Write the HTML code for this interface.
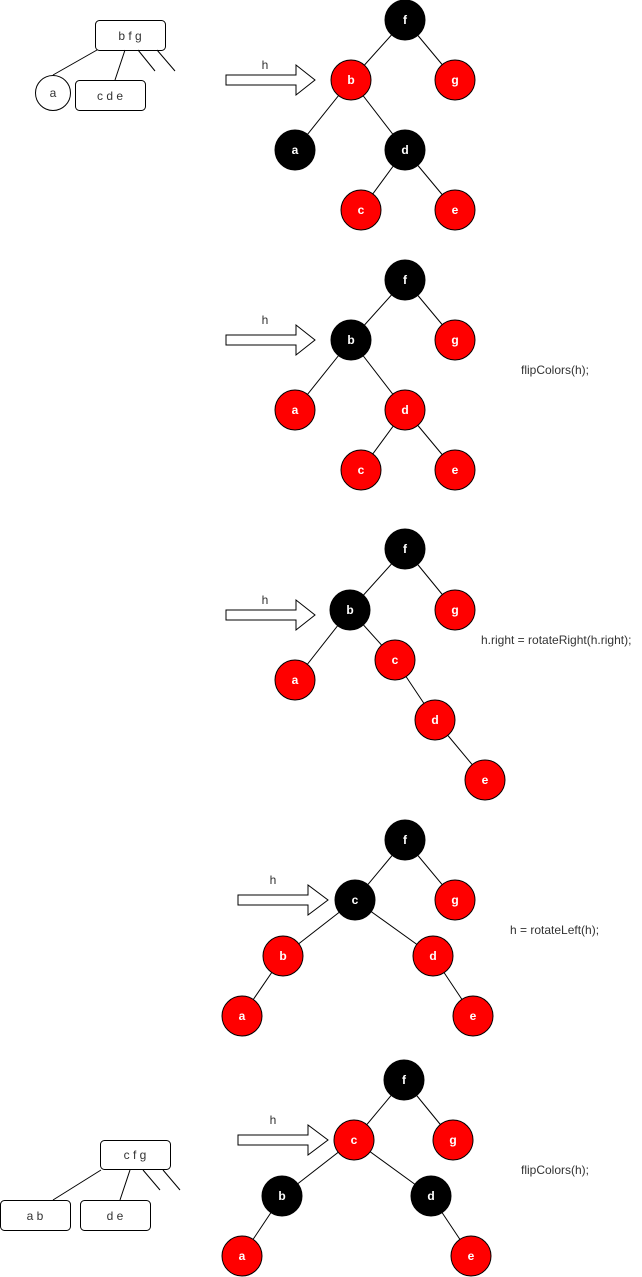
<!DOCTYPE html>
<html><head><style>body{margin:0;background:#fff}svg{display:block}</style></head><body>
<svg width="642" height="1277" xmlns="http://www.w3.org/2000/svg" font-family="Liberation Sans, sans-serif">
<defs>
<style>
.l{stroke:#000;stroke-width:1;fill:none}
.r{fill:#f00;stroke:#000;stroke-width:1}
.b{fill:#000;stroke:#000;stroke-width:1}
.t{fill:#fff;font-weight:bold;font-size:12px;text-anchor:middle}
.p{fill:#333;font-size:12px}
.ar{fill:#fff;stroke:#000;stroke-width:1}
</style>
</defs>

<!-- Panel 1 left -->
<rect x="95.5" y="20.5" width="70" height="30" rx="4" fill="#fff" stroke="#000"/>
<text x="130" y="40" class="p" text-anchor="middle">b f g</text>
<circle cx="53" cy="93" r="17.5" fill="#fff" stroke="#000"/>
<text x="53" y="97" class="p" text-anchor="middle">a</text>
<rect x="75.5" y="80.5" width="70" height="30" rx="4" fill="#fff" stroke="#000"/>
<text x="110" y="100" class="p" text-anchor="middle">c d e</text>
<path class="l" d="M97 50L53 75M125 50L115 80M138 50L155 71M157 50L175 71"/>

<!-- Panel 1 tree -->
<path class="ar" d="M226 75H296V65L315 80L296 95V85H226Z"/>
<text x="265" y="69" class="p" text-anchor="middle">h</text>
<path class="l" d="M405 20L351 80M405 20L455 80M351 80L295 150M351 80L405 150M405 150L361 210M405 150L455 210"/>
<circle cx="405" cy="20" r="20" class="b"/><text x="405" y="24" class="t">f</text>
<circle cx="351" cy="80" r="20" class="r"/><text x="351" y="84" class="t">b</text>
<circle cx="455" cy="80" r="20" class="r"/><text x="455" y="84" class="t">g</text>
<circle cx="295" cy="150" r="20" class="b"/><text x="295" y="154" class="t">a</text>
<circle cx="405" cy="150" r="20" class="b"/><text x="405" y="154" class="t">d</text>
<circle cx="361" cy="210" r="20" class="r"/><text x="361" y="214" class="t">c</text>
<circle cx="455" cy="210" r="20" class="r"/><text x="455" y="214" class="t">e</text>

<!-- Panel 2 -->
<path class="ar" d="M226 335H296V325L315 340L296 355V345H226Z"/>
<text x="265" y="324" class="p" text-anchor="middle">h</text>
<path class="l" d="M405 280L351 340M405 280L455 340M351 340L295 410M351 340L405 410M405 410L361 470M405 410L455 470"/>
<circle cx="405" cy="280" r="20" class="b"/><text x="405" y="284" class="t">f</text>
<circle cx="351" cy="340" r="20" class="b"/><text x="351" y="344" class="t">b</text>
<circle cx="455" cy="340" r="20" class="r"/><text x="455" y="344" class="t">g</text>
<circle cx="295" cy="410" r="20" class="r"/><text x="295" y="414" class="t">a</text>
<circle cx="405" cy="410" r="20" class="r"/><text x="405" y="414" class="t">d</text>
<circle cx="361" cy="470" r="20" class="r"/><text x="361" y="474" class="t">c</text>
<circle cx="455" cy="470" r="20" class="r"/><text x="455" y="474" class="t">e</text>
<text x="521" y="374" class="p">flipColors(h);</text>

<!-- Panel 3 -->
<path class="ar" d="M226 610H296V600L315 615L296 630V620H226Z"/>
<text x="265" y="604" class="p" text-anchor="middle">h</text>
<path class="l" d="M405 549L350 610M405 549L455 610M350 610L295 680M350 610L395 660M395 660L435 720M435 720L485 780"/>
<circle cx="405" cy="549" r="20" class="b"/><text x="405" y="553" class="t">f</text>
<circle cx="350" cy="610" r="20" class="b"/><text x="350" y="614" class="t">b</text>
<circle cx="455" cy="610" r="20" class="r"/><text x="455" y="614" class="t">g</text>
<circle cx="295" cy="680" r="20" class="r"/><text x="295" y="684" class="t">a</text>
<circle cx="395" cy="660" r="20" class="r"/><text x="395" y="664" class="t">c</text>
<circle cx="435" cy="720" r="20" class="r"/><text x="435" y="724" class="t">d</text>
<circle cx="485" cy="780" r="20" class="r"/><text x="485" y="784" class="t">e</text>
<text x="481" y="644" class="p">h.right = rotateRight(h.right);</text>

<!-- Panel 4 -->
<path class="ar" d="M238 895H308V885L328 900L308 915V905H238Z"/>
<text x="273" y="884" class="p" text-anchor="middle">h</text>
<path class="l" d="M405 840L355 900M405 840L455 900M355 900L283 956M355 900L433 956M283 956L242 1016M433 956L473 1016"/>
<circle cx="405" cy="840" r="20" class="b"/><text x="405" y="844" class="t">f</text>
<circle cx="355" cy="900" r="20" class="b"/><text x="355" y="904" class="t">c</text>
<circle cx="455" cy="900" r="20" class="r"/><text x="455" y="904" class="t">g</text>
<circle cx="283" cy="956" r="20" class="r"/><text x="283" y="960" class="t">b</text>
<circle cx="433" cy="956" r="20" class="r"/><text x="433" y="960" class="t">d</text>
<circle cx="242" cy="1016" r="20" class="r"/><text x="242" y="1020" class="t">a</text>
<circle cx="473" cy="1016" r="20" class="r"/><text x="473" y="1020" class="t">e</text>
<text x="510" y="934" class="p">h = rotateLeft(h);</text>

<!-- Panel 5 left -->
<rect x="100.5" y="1140.5" width="70" height="29" rx="4" fill="#fff" stroke="#000"/>
<text x="135" y="1159" class="p" text-anchor="middle">c f g</text>
<rect x="0.5" y="1200.5" width="70" height="30" rx="4" fill="#fff" stroke="#000"/>
<text x="35" y="1220" class="p" text-anchor="middle">a b</text>
<rect x="80.5" y="1200.5" width="70" height="30" rx="4" fill="#fff" stroke="#000"/>
<text x="115" y="1220" class="p" text-anchor="middle">d e</text>
<path class="l" d="M101 1170L53 1200M130 1170L120 1200M143 1170L160 1190M163 1170L180 1190"/>

<!-- Panel 5 tree -->
<path class="ar" d="M238 1135H308V1125L328 1140L308 1155V1145H238Z"/>
<text x="273" y="1124" class="p" text-anchor="middle">h</text>
<path class="l" d="M404 1080L354 1140M404 1080L453 1140M354 1140L282 1196M354 1140L431 1196M282 1196L242 1256M431 1196L471 1256"/>
<circle cx="404" cy="1080" r="20" class="b"/><text x="404" y="1084" class="t">f</text>
<circle cx="354" cy="1140" r="20" class="r"/><text x="354" y="1144" class="t">c</text>
<circle cx="453" cy="1140" r="20" class="r"/><text x="453" y="1144" class="t">g</text>
<circle cx="282" cy="1196" r="20" class="b"/><text x="282" y="1200" class="t">b</text>
<circle cx="431" cy="1196" r="20" class="b"/><text x="431" y="1200" class="t">d</text>
<circle cx="242" cy="1256" r="20" class="r"/><text x="242" y="1260" class="t">a</text>
<circle cx="471" cy="1256" r="20" class="r"/><text x="471" y="1260" class="t">e</text>
<text x="521" y="1174" class="p">flipColors(h);</text>
</svg>
</body></html>
